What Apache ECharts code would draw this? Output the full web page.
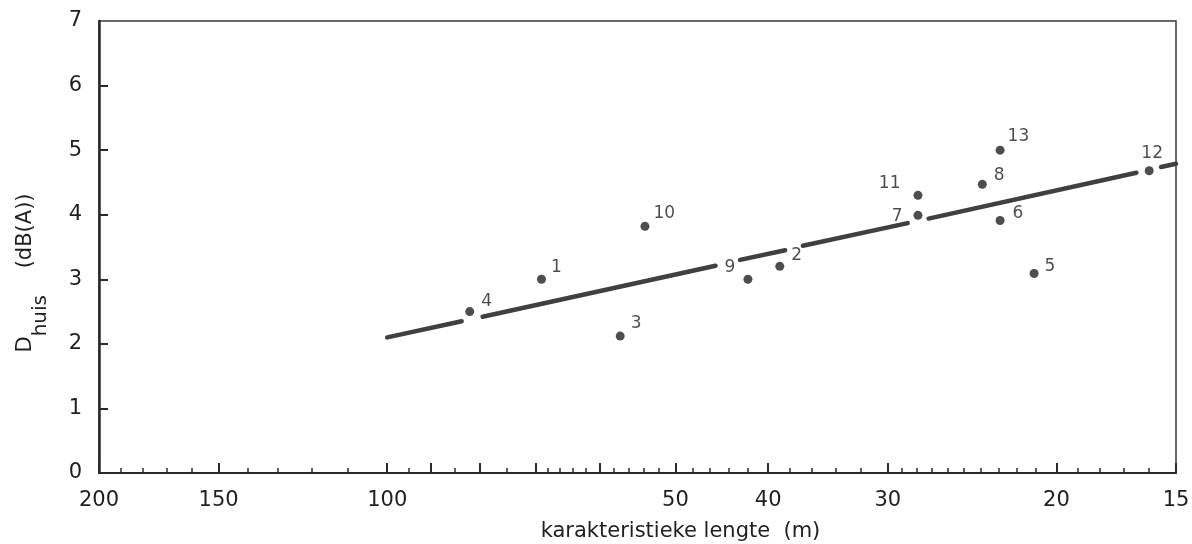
<!DOCTYPE html>
<html>
<head>
<meta charset="utf-8">
<title>D huis tegen karakteristieke lengte</title>
<script src="https://cdn.jsdelivr.net/npm/echarts@6/dist/echarts.min.js"></script>
<style>
  html, body { margin: 0; padding: 0; background: #ffffff; }
  #chart { width: 1192px; height: 544px; }
</style>
</head>
<body>
<div id="chart"></div>
<script>
// Meetpunten: karakteristieke lengte (m) en D_huis (dB(A))
const pointIds = ['1', '2', '3', '4', '5', '6', '7', '8', '9', '10', '11', '12', '13'];
const lengths  = [69, 38.9, 57.1, 82.0, 21.1, 22.9, 27.9, 23.9, 42.0, 53.8, 27.9, 16.0, 22.9];
const dHuis    = [3.0, 3.2, 2.12, 2.5, 3.09, 3.91, 3.99, 4.47, 3.0, 3.82, 4.3, 4.68, 5.0];

// Regressielijn, onderbroken bij de puntlabels: [lengte, D] begin- en eindpunten
const fitSegments = [
  [[100, 2.10], [83.6, 2.35]],
  [[79.5, 2.42], [45.4, 3.21]],
  [[42.8, 3.30], [38.4, 3.45]],
  [[36.8, 3.52], [28.6, 3.87]],
  [[27.2, 3.94], [16.5, 4.65]],
  [[15.55, 4.74], [15, 4.79]]
];

// As-indeling (logaritmische x-as, van 200 naar 15)
const xLabelValues = [200, 150, 100, 50, 40, 30, 20, 15];
const xMajorTicks  = [200, 150, 100, 90, 80, 70, 60, 50, 40, 30, 20, 15];
const xMinorTicks  = [190, 180, 170, 160, 140, 130, 120, 110, 95, 85, 75,
                      68, 66, 64, 62, 58, 56, 54, 52, 48, 46, 44, 42, 38, 36, 34, 32,
                      29, 28, 27, 26, 25, 24, 23, 22, 21, 19, 18, 17, 16];
const yTicks = [0, 1, 2, 3, 4, 5, 6, 7];

// Plaatsing van de puntnummers: [positie, afstand, verticale verschuiving]
const labelPlacement = {
  '1': ['right', 5, -12], '2': ['right', 7, -11], '3': ['right', 6, -13],
  '4': ['right', 7, -10], '5': ['right', 6, -7], '6': ['right', 8, -7],
  '7': ['left', 11, 1], '8': ['right', 7, -9], '9': ['left', 8, -12],
  '10': ['right', 4, -13], '11': ['left', 13, -12], '12': ['top', 4, 0],
  '13': ['right', 3, -14]
};

const FONT = 'DejaVu Sans';
const INK = '#1f1f1f';

const scatterData = pointIds.map((id, i) => {
  const p = labelPlacement[id];
  return {
    name: id,
    value: [lengths[i], dHuis[i]],
    label: {
      position: p[0],
      distance: p[1],
      offset: p[0] === 'top' ? [3, p[2]] : [0, p[2]]
    }
  };
});

const fitSeries = fitSegments.map(seg => ({
  type: 'line',
  xAxisIndex: 0,
  yAxisIndex: 0,
  data: seg,
  symbol: 'none',
  silent: true,
  z: 2,
  lineStyle: { color: '#404040', width: 4.5, cap: 'round' }
}));

const logAxisBase = {
  type: 'log',
  logBase: 10,
  min: 15,
  max: 200,
  inverse: true,
  position: 'bottom',
  gridIndex: 0,
  splitLine: { show: false }
};

const chart = echarts.init(document.getElementById('chart'), null, { renderer: 'canvas' });
chart.setOption({
  backgroundColor: '#ffffff',
  animation: false,
  grid: {
    left: 99, right: 16, top: 21, bottom: 71,
    show: true,
    borderColor: '#3a3a3a',
    borderWidth: 1.5,
    containLabel: false,
    outerBoundsMode: 'none'
  },
  xAxis: [
    Object.assign({}, logAxisBase, {
      name: 'karakteristieke lengte  (m)',
      nameLocation: 'middle',
      nameGap: 48,
      nameTextStyle: { fontFamily: FONT, fontSize: 21, color: INK, padding: [0, 0, 0, 86] },
      axisLine: { show: true, lineStyle: { color: '#2a2a2a', width: 2 } },
      axisTick: {
        show: true, inside: true, length: 10,
        customValues: xMajorTicks,
        lineStyle: { color: '#2a2a2a', width: 2 }
      },
      axisLabel: {
        show: true,
        customValues: xLabelValues,
        margin: 17,
        fontFamily: FONT, fontSize: 21, color: INK,
        formatter: v => String(Math.round(v))
      }
    }),
    Object.assign({}, logAxisBase, {
      axisLine: { show: false },
      axisLabel: { show: false },
      axisTick: {
        show: true, inside: true, length: 5,
        customValues: xMinorTicks,
        lineStyle: { color: '#2a2a2a', width: 1.5 }
      }
    })
  ],
  yAxis: {
    type: 'value',
    min: 0,
    max: 7,
    interval: 1,
    name: '{d|D}{s|huis}{n|    (dB(A))}',
    nameLocation: 'middle',
    nameGap: 48,
    nameTextStyle: {
      fontFamily: FONT, color: INK,
      padding: [0, 52, 0, 0],
      rich: {
        d: { fontFamily: FONT, fontSize: 21, color: INK, lineHeight: 50, verticalAlign: 'middle' },
        s: { fontFamily: FONT, fontSize: 20, color: INK, lineHeight: 22, verticalAlign: 'bottom' },
        n: { fontFamily: FONT, fontSize: 21, color: INK, lineHeight: 50, verticalAlign: 'middle' }
      }
    },
    axisLine: { show: true, lineStyle: { color: '#2a2a2a', width: 2.5 } },
    axisTick: {
      show: true, inside: true, length: 9,
      customValues: yTicks.slice(1, 7),
      lineStyle: { color: '#2a2a2a', width: 2 }
    },
    axisLabel: {
      margin: 17,
      fontFamily: FONT, fontSize: 21, color: INK
    },
    splitLine: { show: false }
  },
  series: fitSeries.concat([{
    type: 'scatter',
    xAxisIndex: 0,
    yAxisIndex: 0,
    data: scatterData,
    symbol: 'circle',
    symbolSize: 9,
    z: 3,
    itemStyle: { color: '#222222' },
    label: {
      show: true,
      formatter: '{b}',
      fontFamily: FONT,
      fontSize: 17,
      color: INK
    }
  }])
});
</script>
</body>
</html>
